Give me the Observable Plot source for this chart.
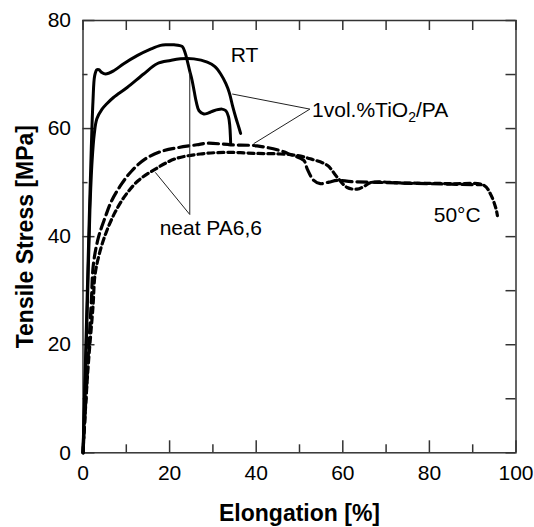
<!DOCTYPE html>
<html>
<head>
<meta charset="utf-8">
<script src="https://cdn.jsdelivr.net/npm/d3@7"></script>
<script src="https://cdn.jsdelivr.net/npm/@observablehq/plot@0.6"></script>
<style>
  html, body { margin: 0; padding: 0; background: white; }
  #chart { width: 534px; height: 527px; }
</style>
</head>
<body>
<div id="chart"></div>
<script>
// ---- Data (elongation %, tensile stress MPa) ----
const neatRT = [
  [0,0],[0.5,15],[1.0,30],[1.5,45],[1.9,56],[2.3,65],[2.7,69.8],[3.2,70.9],[3.65,70.9],
  [4.3,70.4],[5.2,70.1],[7.1,70.7],[9.4,72.0],[12.5,73.5],[15.6,74.7],[17.9,75.4],
  [19.4,75.5],[21.0,75.5],[22.9,75.2],[23.6,74.0],[24.1,72.5],[24.6,70.8],[25.2,68.9],
  [25.7,66.8],[26.2,64.8],[26.8,63.3],[27.9,62.7],[29.0,62.9],[30.2,63.3],[32.1,63.6],
  [33.0,63.3],[33.6,62.2],[33.9,60.5],[34.05,58.4],[34.1,57.3]
];
const tioRT = [
  [0,0],[0.6,15],[1.1,30],[1.6,45],[2.1,54],[2.6,59],[3.2,61.8],[4.4,63.6],[5.5,64.6],
  [7.1,65.8],[10.2,67.6],[14.0,70.1],[17.1,72.0],[20.2,72.6],[22.5,72.9],[25.6,72.9],
  [28.7,72.3],[30.4,71.5],[31.8,70.1],[33.0,68.3],[33.8,66.6],[34.6,64.0],[35.3,62.0],
  [36.0,60.2],[36.4,59.1]
];
const tio50 = [
  [0,0],[1.0,15],[1.9,27.6],[2.42,35],[3.58,39.9],[5.13,43.6],[6.65,46.7],[8.96,49.8],
  [11.3,52.2],[14.4,54.4],[18.2,55.8],[22.1,56.5],[26.3,57.0],[28.7,57.3],[34.1,57.0],
  [40.2,56.8],[45.6,55.9],[47.9,55.2],[51.0,54.1],[51.8,52.5],[53.3,50.4],[54.8,49.8],
  [56.8,50.1],[58.7,50.4],[62,50.2],[70,50.0],[80,49.8],[92,49.6]
];
const neat50 = [
  [0,0],[1.1,15],[2.3,27],[2.8,33.1],[3.97,37.4],[5.5,41.1],[7.4,44.5],[9.75,47.6],
  [12.8,50.4],[16.7,52.5],[21.3,54.4],[27.1,55.3],[33.3,55.6],[40.2,55.4],[45.6,55.3],
  [49.5,55.0],[52.5,54.4],[56.4,53.2],[58.7,51.0],[61,49.1],[63.3,48.8],[64.9,49.3],
  [66.4,50.0],[75,49.9],[85,49.8],[92.6,49.5],[94.1,47.9],[95.3,45.4],[95.7,43.9]
];

// ---- Axis ticks ----
const xTicks = [0, 20, 40, 60, 80, 100];
const xMinor = [10, 30, 50, 70, 90];
const yTicks = [0, 20, 40, 60, 80];
const yMinor = [10, 30, 50, 70];

// ---- Annotations (data coordinates) ----
const labels = [
  {text: "RT", x: 34.1, y: 73.6},
  {text: "1vol.%TiO2/PA", x: 52.9, y: 63.4},
  {text: "neat PA6,6", x: 17.7, y: 41.6},
  {text: "50°C", x: 81.0, y: 43.9}
];
const leaders = [
  {x1: 34.46, y1: 66.4, x2: 52.4, y2: 63.6},
  {x1: 39.4, y1: 57.2, x2: 52.4, y2: 63.6},
  {x1: 16.7, y1: 51.9, x2: 24.66, y2: 44.1},
  {x1: 24.66, y1: 70.5, x2: 24.66, y2: 44.1}
];

const xTitle = "Elongation [%]";
const yTitle = "Tensile Stress [MPa]";

// ---- layout ----
const W = 534, H = 527;
const mT = 20, mR = 18.5, mB = 74.7, mL = 82.5;
const FW = W - mL - mR, FH = H - mT - mB;   // frame size in px
const axisColor = "#333";
const px = d => d[0], py = d => d[1];
const tickStyle = {stroke: axisColor, strokeWidth: 1.5};

const chart = Plot.plot({
  width: W,
  height: H,
  marginTop: mT,
  marginRight: mR,
  marginBottom: mB,
  marginLeft: mL,
  style: {fontFamily: "'Liberation Sans', Arial, sans-serif", fontSize: "21px", background: "white", color: "black"},
  x: {domain: [0, 100], axis: null},
  y: {domain: [0, 80], axis: null},
  marks: [
    // inward ticks: bottom (major 12px, minor 8px), top (10px)
    Plot.ruleX(xTicks, {x: d => d, insetTop: FH - 12, ...tickStyle}),
    Plot.ruleX(xMinor, {x: d => d, insetTop: FH - 8, ...tickStyle}),
    Plot.ruleX(xTicks.concat(xMinor), {x: d => d, insetBottom: FH - 10, ...tickStyle}),
    // left (major 12px, minor 5px), right (10px)
    Plot.ruleY(yTicks, {y: d => d, insetRight: FW - 12, ...tickStyle}),
    Plot.ruleY(yMinor, {y: d => d, insetRight: FW - 5, ...tickStyle}),
    Plot.ruleY(yTicks.concat(yMinor), {y: d => d, insetLeft: FW - 10, ...tickStyle}),
    // tick labels
    Plot.axisX(xTicks, {anchor: "bottom", tickSize: 0, tickPadding: 12, fontSize: 21, label: null}),
    Plot.axisY(yTicks, {anchor: "left", tickSize: 0, tickPadding: 12, fontSize: 21, label: null}),
    Plot.frame({stroke: axisColor, strokeWidth: 1.5}),
    // curves
    Plot.line(neat50, {x: px, y: py, curve: "catmull-rom", stroke: "black", strokeWidth: 3.2, strokeDasharray: "6,4"}),
    Plot.line(tio50, {x: px, y: py, curve: "catmull-rom", stroke: "black", strokeWidth: 3.2, strokeDasharray: "10,5"}),
    Plot.line(tioRT, {x: px, y: py, curve: "catmull-rom", stroke: "black", strokeWidth: 3}),
    Plot.line(neatRT, {x: px, y: py, curve: "catmull-rom", stroke: "black", strokeWidth: 3}),
    // leader lines and labels
    Plot.link(leaders, {x1: "x1", y1: "y1", x2: "x2", y2: "y2", stroke: "#222", strokeWidth: 1}),
    Plot.text(labels, {x: "x", y: "y", text: "text", textAnchor: "start", lineAnchor: "middle", fontSize: 21, fill: "black"}),
    // axis titles
    Plot.text([xTitle], {text: d => d, frameAnchor: "bottom", textAnchor: "middle", lineAnchor: "middle", dy: 61, fontSize: 23, fontWeight: "bold", fill: "black"}),
    Plot.text([yTitle], {text: d => d, frameAnchor: "left", textAnchor: "middle", lineAnchor: "middle", rotate: -90, dx: -57, fontSize: 23, fontWeight: "bold", fill: "black"})
  ]
});

document.getElementById("chart").appendChild(chart);

// subscript for TiO2
d3.select(chart).selectAll("text").each(function() {
  const t = d3.select(this);
  if (t.text() === "1vol.%TiO2/PA") {
    t.text(null);
    t.append("tspan").text("1vol.%TiO");
    t.append("tspan").attr("font-size", 14).attr("dy", 5).text("2");
    t.append("tspan").attr("dy", -5).text("/PA");
  }
});
</script>
</body>
</html>
